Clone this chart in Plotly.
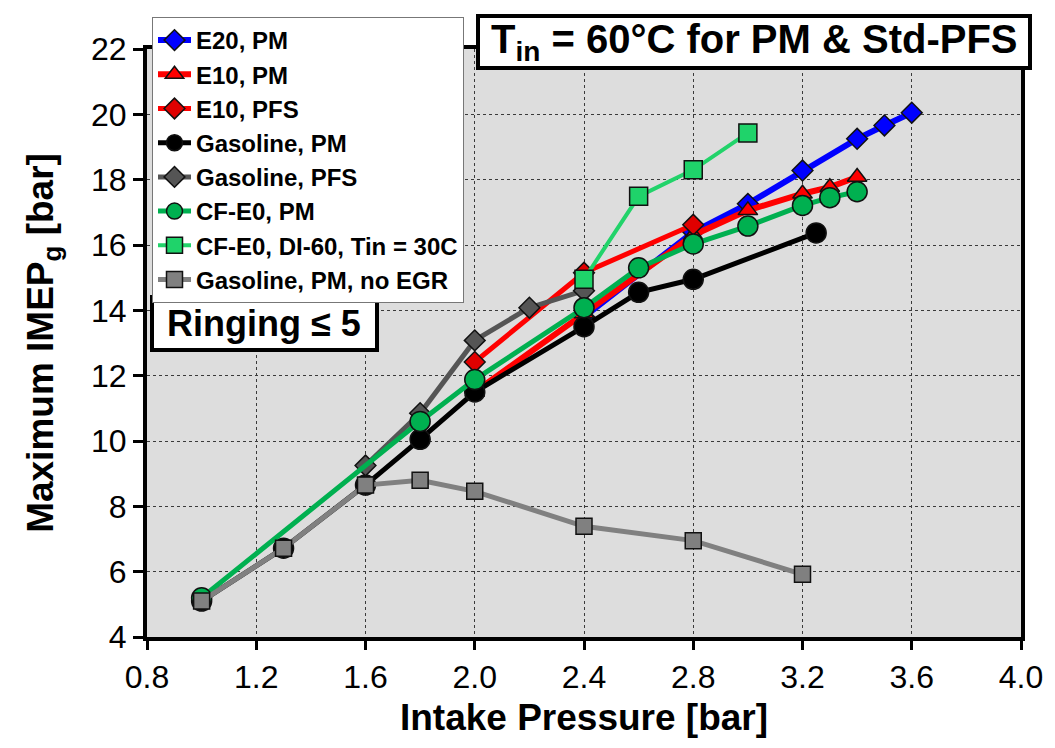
import plotly.graph_objects as go

# Intake pressure [bar] and maximum IMEPg [bar] for each fuel / fueling strategy
e20_pm_x = [2.4, 2.8, 3.0, 3.2, 3.4, 3.5, 3.6]
e20_pm_y = [13.8, 16.4, 17.26, 18.28, 19.25, 19.66, 20.05]

e10_pm_x = [2.0, 2.4, 2.8, 3.0, 3.2, 3.3, 3.4]
e10_pm_y = [11.5, 13.9, 16.3, 17.06, 17.57, 17.77, 18.08]

e10_pfs_x = [2.0, 2.4, 2.8]
e10_pfs_y = [12.42, 15.15, 16.62]

gas_pm_x = [1.0, 1.3, 1.6, 1.8, 2.0, 2.4, 2.6, 2.8, 3.25]
gas_pm_y = [5.1, 6.72, 8.65, 10.05, 11.5, 13.5, 14.55, 14.95, 16.37]

gas_pfs_x = [1.6, 1.8, 2.0, 2.2, 2.4]
gas_pfs_y = [9.25, 10.85, 13.08, 14.08, 14.6]

cf_pm_x = [1.0, 1.8, 2.0, 2.4, 2.6, 2.8, 3.0, 3.2, 3.3, 3.4]
cf_pm_y = [5.2, 10.6, 11.88, 14.08, 15.3, 16.03, 16.58, 17.21, 17.45, 17.63]

cf_di60_x = [2.4, 2.6, 2.8, 3.0]
cf_di60_y = [14.95, 17.49, 18.3, 19.43]

gas_noegr_x = [1.0, 1.3, 1.6, 1.8, 2.0, 2.4, 2.8, 3.2]
gas_noegr_y = [5.1, 6.72, 8.65, 8.8, 8.46, 7.39, 6.95, 5.92]

x_ticks = [0.8, 1.2, 1.6, 2.0, 2.4, 2.8, 3.2, 3.6, 4.0]
y_ticks = [4, 6, 8, 10, 12, 14, 16, 18, 20, 22]

series = [
    ("E20, PM", e20_pm_x, e20_pm_y, "#0000FF", 6, "diamond", "#0000FF", 16),
    ("E10, PM", e10_pm_x, e10_pm_y, "#FF0000", 6, "triangle-up", "#FF0000", 17),
    ("E10, PFS", e10_pfs_x, e10_pfs_y, "#FF0000", 5, "diamond", "#E00000", 16),
    ("Gasoline, PM", gas_pm_x, gas_pm_y, "#000000", 5, "circle", "#000000", 20),
    ("Gasoline, PFS", gas_pfs_x, gas_pfs_y, "#555555", 5, "diamond", "#555555", 16),
    ("CF-E0, PM", cf_pm_x, cf_pm_y, "#00B050", 5, "circle", "#00B050", 20),
    ("CF-E0, DI-60, Tin = 30C", cf_di60_x, cf_di60_y, "#22D36A", 4, "square", "#1FD36A", 18),
    ("Gasoline, PM, no EGR", gas_noegr_x, gas_noegr_y, "#808080", 5, "square", "#808080", 16),
]

fig = go.Figure()
for name, xs, ys, lc, lw, sym, mc, ms in series:
    fig.add_trace(go.Scatter(
        x=xs, y=ys, name=name, legendgroup=name, mode="lines+markers",
        line=dict(color=lc, width=lw),
        marker=dict(symbol=sym, color=mc, size=ms,
                    line=dict(color="#111111", width=1.5)),
    ))

W, H = 1055, 748
L, R, T, B = 147, 34, 49, 111
pw, ph = W - L - R, H - T - B


def px_x(p):
    return (p - L) / pw


def px_y(p):
    return (H - B - p) / ph


fig.update_layout(
    width=W, height=H,
    margin=dict(l=L, r=R, t=T, b=B),
    paper_bgcolor="white", plot_bgcolor="#DDDDDD",
    font=dict(family="Liberation Sans, Arial, sans-serif", color="black"),
    showlegend=True,
    legend=dict(
        x=px_x(152), y=px_y(17), xanchor="left", yanchor="top",
        bgcolor="white", bordercolor="#777777", borderwidth=1,
        font=dict(size=24, weight="bold", color="black"),
        traceorder="grouped", tracegroupgap=0, itemwidth=33,
    ),
    xaxis=dict(
        range=[0.8, 4.0], tickvals=x_ticks, tickformat=".1f",
        showline=True, linewidth=4, linecolor="black", mirror=True,
        ticks="outside", ticklen=9, tickwidth=3, tickcolor="black",
        tickfont=dict(size=32),
        showgrid=True, gridcolor="#3A3A3A", gridwidth=1, griddash="3px,3px",
        zeroline=False,
        title=dict(text="Intake Pressure [bar]", font=dict(size=37, weight="bold"),
                   standoff=11),
    ),
    yaxis=dict(
        range=[4, 22], tickvals=y_ticks,
        showline=True, linewidth=4, linecolor="black", mirror=True,
        ticks="outside", ticklen=10, tickwidth=3, tickcolor="black",
        tickfont=dict(size=32),
        showgrid=True, gridcolor="#3A3A3A", gridwidth=1, griddash="3px,3px",
        zeroline=False,
        title=dict(text="Maximum IMEP<sub>g</sub> [bar]",
                   font=dict(size=37, weight="bold"), standoff=27),
    ),
)

# Boxed notes
fig.add_shape(type="rect", xref="paper", yref="paper",
              x0=px_x(478), x1=px_x(1030), y0=px_y(68), y1=px_y(16),
              fillcolor="white", line=dict(color="black", width=4), layer="above")
fig.add_annotation(xref="paper", yref="paper", x=px_x(754), y=px_y(42),
                   text="T<sub>in</sub> = 60°C for PM &amp; Std-PFS", showarrow=False,
                   font=dict(size=40, weight="bold", color="black"),
                   xanchor="center", yanchor="middle")

fig.add_shape(type="rect", xref="paper", yref="paper",
              x0=px_x(152), x1=px_x(377), y0=px_y(350), y1=px_y(297),
              fillcolor="white", line=dict(color="black", width=4), layer="above")
fig.add_annotation(xref="paper", yref="paper", x=px_x(264), y=px_y(323),
                   text="Ringing ≤ 5", showarrow=False,
                   font=dict(size=36, weight="bold", color="black"),
                   xanchor="center", yanchor="middle")

fig.write_html("out.html")
